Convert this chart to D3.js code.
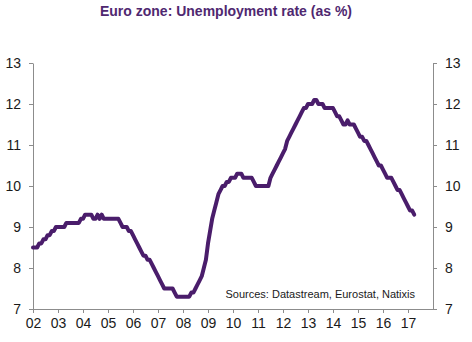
<!DOCTYPE html>
<html>
<head>
<meta charset="utf-8">
<script src="https://cdn.jsdelivr.net/npm/d3@7"></script>
<style>
  html, body { margin: 0; padding: 0; background: #fff; }
  svg { display: block; }
  text { font-family: "Liberation Sans", Arial, sans-serif; }
</style>
</head>
<body>
<svg id="chart" width="472" height="342"></svg>
<script>
// ---- Data ----
const title = "Euro zone: Unemployment rate (as %)";
const sourceNote = "Sources: Datastream, Eurostat, Natixis";
const startYear = 2002; // monthly series begins January 2002
const unemployment = [
  // 2002
  8.5, 8.5, 8.5, 8.6, 8.6, 8.7, 8.7, 8.8, 8.8, 8.9, 8.9, 9.0,
  // 2003
  9.0, 9.0, 9.0, 9.0, 9.1, 9.1, 9.1, 9.1, 9.1, 9.1, 9.1, 9.2,
  // 2004
  9.2, 9.3, 9.3, 9.3, 9.3, 9.2, 9.2, 9.3, 9.2, 9.3, 9.2, 9.2,
  // 2005
  9.2, 9.2, 9.2, 9.2, 9.2, 9.2, 9.1, 9.0, 9.0, 9.0, 8.9, 8.9,
  // 2006
  8.8, 8.7, 8.6, 8.5, 8.4, 8.3, 8.3, 8.2, 8.2, 8.1, 8.0, 7.9,
  // 2007
  7.8, 7.7, 7.6, 7.5, 7.5, 7.5, 7.5, 7.5, 7.4, 7.3, 7.3, 7.3,
  // 2008
  7.3, 7.3, 7.3, 7.3, 7.4, 7.4, 7.5, 7.6, 7.7, 7.8, 8.0, 8.2,
  // 2009
  8.6, 8.9, 9.2, 9.4, 9.6, 9.8, 9.9, 10.0, 10.0, 10.1, 10.1, 10.2,
  // 2010
  10.2, 10.2, 10.3, 10.3, 10.3, 10.2, 10.2, 10.2, 10.2, 10.2, 10.1, 10.0,
  // 2011
  10.0, 10.0, 10.0, 10.0, 10.0, 10.0, 10.2, 10.3, 10.4, 10.5, 10.6, 10.7,
  // 2012
  10.8, 10.9, 11.1, 11.2, 11.3, 11.4, 11.5, 11.6, 11.7, 11.8, 11.9, 11.9,
  // 2013
  12.0, 12.0, 12.0, 12.1, 12.1, 12.0, 12.0, 12.0, 11.9, 11.9, 11.9, 11.9,
  // 2014
  11.9, 11.8, 11.7, 11.7, 11.6, 11.5, 11.5, 11.6, 11.5, 11.5, 11.5, 11.4,
  // 2015
  11.3, 11.2, 11.2, 11.1, 11.1, 11.0, 10.9, 10.8, 10.7, 10.6, 10.5, 10.5,
  // 2016
  10.4, 10.3, 10.2, 10.2, 10.2, 10.1, 10.0, 9.9, 9.9, 9.8, 9.7, 9.6,
  // 2017
  9.5, 9.4, 9.4, 9.3
];
const yearTicks = [2002, 2003, 2004, 2005, 2006, 2007, 2008, 2009, 2010, 2011, 2012, 2013, 2014, 2015, 2016, 2017];
const yearLabels = ["02", "03", "04", "05", "06", "07", "08", "09", "10", "11", "12", "13", "14", "15", "16", "17"];
const yTicks = [7, 8, 9, 10, 11, 12, 13];

// ---- Chart ----
const svg = d3.select("#chart");
const margin = { left: 33, right: 39, top: 63, bottom: 33 };
const W = 472, H = 342;

const x = d3.scaleLinear().domain([2002, 2018]).range([margin.left, W - margin.right]);
const y = d3.scaleLinear().domain([7, 13]).range([H - margin.bottom, margin.top]);

const axisColor = "#8c8c8c";
const lineColor = "#4a1d6b";

function styleAxis(g) {
  g.select(".domain").attr("stroke", axisColor).attr("stroke-width", 1);
  g.selectAll(".tick line").attr("stroke", axisColor);
  g.selectAll(".tick text")
    .attr("fill", "#1a1a1a")
    .style("font-size", "14px")
    .style("font-family", "'Liberation Sans', Arial, sans-serif");
}

// Left axis
svg.append("g")
  .attr("transform", `translate(${x(2002)},0)`)
  .call(d3.axisLeft(y).tickValues(yTicks).tickFormat(d3.format("d"))
    .tickSize(4).tickPadding(8).tickSizeOuter(0))
  .call(styleAxis);

// Right axis
svg.append("g")
  .attr("transform", `translate(${x(2018)},0)`)
  .call(d3.axisRight(y).tickValues(yTicks).tickFormat(d3.format("d"))
    .tickSize(4).tickPadding(8).tickSizeOuter(0))
  .call(styleAxis);

// Bottom axis
svg.append("g")
  .attr("transform", `translate(0,${y(7)})`)
  .call(d3.axisBottom(x).tickValues(yearTicks).tickSize(4).tickPadding(5).tickSizeOuter(0)
    .tickFormat((d, i) => yearLabels[i]))
  .call(styleAxis);

// Line
const series = unemployment.map((v, i) => ({ t: startYear + i / 12, v }));
const line = d3.line().x(d => x(d.t)).y(d => y(d.v));
svg.append("path")
  .datum(series)
  .attr("fill", "none")
  .attr("stroke", lineColor)
  .attr("stroke-width", 4)
  .attr("stroke-linejoin", "round")
  .attr("stroke-linecap", "round")
  .attr("d", line);

// Title
svg.append("text")
  .attr("x", 226)
  .attr("y", 16)
  .attr("text-anchor", "middle")
  .attr("fill", "#4f2870")
  .style("font-size", "14px")
  .style("font-weight", "bold")
  .text(title);

// Source note
svg.append("text")
  .attr("x", 415)
  .attr("y", 298)
  .attr("text-anchor", "end")
  .attr("fill", "#1a1a1a")
  .style("font-size", "11px")
  .text(sourceNote);
</script>
</body>
</html>
